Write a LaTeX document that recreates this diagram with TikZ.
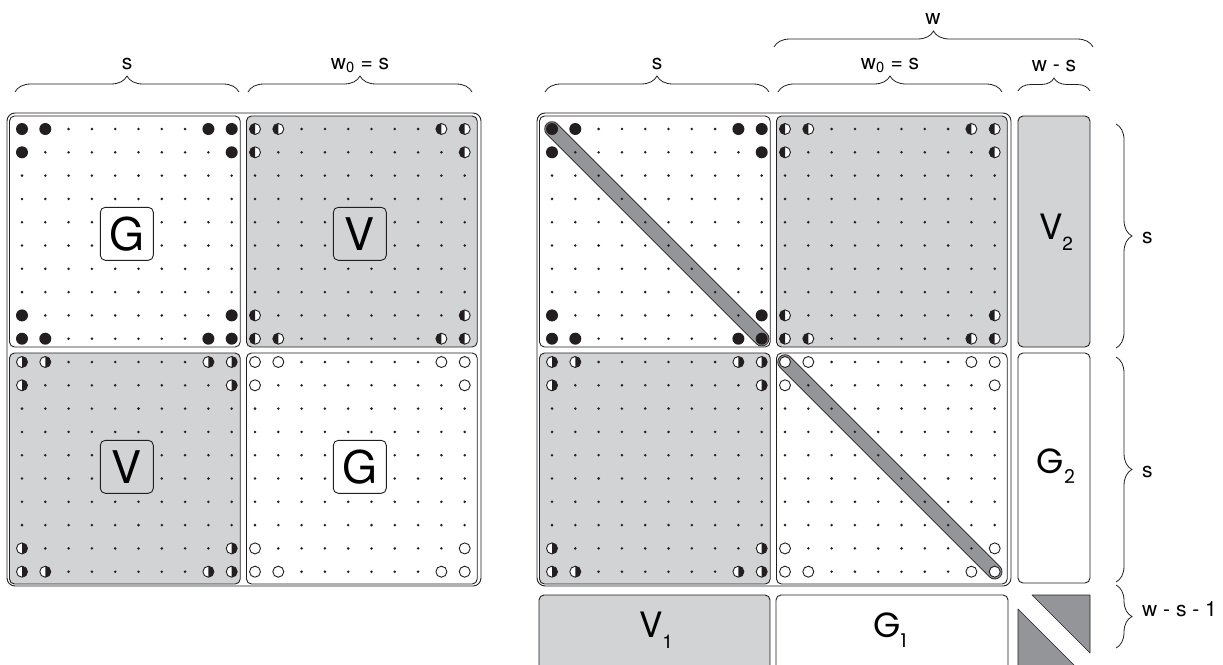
\documentclass[tikz,border=0pt]{standalone}
\usepackage{fontspec}
\setmainfont{TeX Gyre Heros}
\newfontfamily\rondfont{Poppins}
\usetikzlibrary{decorations.pathreplacing}
\definecolor{blocgris}{RGB}{209,211,212}
\definecolor{bandegris}{RGB}{147,149,152}
\definecolor{trait}{RGB}{35,31,32}
\tikzset{
	cadre/.style={draw=trait, line width=0.9pt, rounded corners=5pt},
	etiquette/.style={draw=trait, line width=0.9pt, rounded corners=5pt, minimum size=53pt, inner sep=0pt, font=\fontsize{45}{45}\selectfont},
	sousbloc/.style={inner sep=0pt, font=\fontsize{35}{35}\selectfont},
	titre/.style={inner sep=0pt, anchor=base, font=\fontsize{21}{21}\selectfont},
	accolade/.style={draw=trait, line width=0.8pt, decorate, decoration={brace, amplitude=#1}},
	accolade/.default=16pt,
	bandebord/.style={draw=trait, line width=15.5pt, line cap=round},
	bandefond/.style={draw=bandegris, line width=13.7pt, line cap=round},
	triangle/.style={fill=bandegris, draw=trait, line width=0.7pt, line join=round},
}
\newcommand{\indice}[1]{\raisebox{-0.3em}{\fontsize{19}{19}\selectfont #1}}
\newcommand{\rond}[3]{%
	\ifcase#3\relax
		\fill[trait] ({#1},{#2}) circle[radius=6];
	\or
		\filldraw[fill=white, draw=trait, line width=0.9pt] ({#1},{#2}) circle[radius=5.5];
		\fill[trait] ({#1},{#2}) ++(0,5.5) arc[start angle=90, end angle=270, radius=5.5] -- cycle;
	\or
		\filldraw[fill=white, draw=trait, line width=0.9pt] ({#1},{#2}) circle[radius=5.5];
		\fill[trait] ({#1},{#2}) ++(0,5.5) arc[start angle=90, end angle=-90, radius=5.5] -- cycle;
	\or
		\filldraw[fill=white, draw=trait, line width=0.9pt] ({#1},{#2}) circle[radius=5.5];
	\fi}
\newcommand{\bloc}[3]{%
			{\pgfmathsetmacro{\xa}{9.5+23.7*#1}%
					\pgfmathsetmacro{\xb}{240.2+23.7*#1}%
					\pgfmathsetmacro{\ya}{116+23.7*#2}%
					\pgfmathsetmacro{\yb}{347+23.7*#2}%
					\filldraw[cadre, fill=#3] (\xa,\ya) rectangle (\xb,\yb);}%
		}
\newcommand{\points}[3]{%
			\foreach \i in {0,...,9}
				\foreach \j in {0,...,9}
					\fill[trait] ({22+23.3*(#1+\i)},{129+23.3*(#2+\j)}) circle[radius=1.4];
			\foreach \i/\j in {0/0,1/0,8/0,9/0,0/1,9/1,0/8,9/8,0/9,1/9,8/9,9/9}
				\rond{22+23.3*(#1+\i)}{129+23.3*(#2+\j)}{#3};
		}
\begin{document}
\begin{tikzpicture}[x=1pt, y=-1pt]
			\useasboundingbox (0,0) rectangle (1223,664);
			\clip (0,0) rectangle (1223,664);
			\begin{scope}
				\draw[cadre, rounded corners=8pt] (7,113) rectangle (481,586);
				\bloc{0}{0}{white}
				\bloc{10}{0}{blocgris}
				\bloc{0}{10}{blocgris}
				\bloc{10}{10}{white}
				\points{0}{0}{0}
				\points{10}{0}{1}
				\points{0}{10}{2}
				\points{10}{10}{3}
				\node[etiquette, fill=white] (gA) at (126.8,233.8) {G};
				\node[etiquette, fill=blocgris] (vA) at (359.8,233.8) {V};
				\node[etiquette, fill=blocgris] (vB) at (126.8,466.8) {V};
				\node[etiquette, fill=white] (gB) at (359.8,466.8) {G};
			\end{scope}
			\begin{scope}[xshift=530pt]
				\draw[cadre, rounded corners=8pt] (7,113) rectangle (481,586);
				\bloc{0}{0}{white}
				\bloc{10}{0}{blocgris}
				\bloc{0}{10}{blocgris}
				\bloc{10}{10}{white}
				\draw[bandebord] (22,129) -- (231.7,338.7);
				\draw[bandefond] (22,129) -- (231.7,338.7);
				\draw[bandebord] (255,362) -- (464.7,571.7);
				\draw[bandefond] (255,362) -- (464.7,571.7);
				\points{0}{0}{0}
				\points{10}{0}{1}
				\points{0}{10}{2}
				\points{10}{10}{3}
			\end{scope}
			\filldraw[cadre, fill=blocgris] (1018,116) rectangle (1090,347);
			\filldraw[cadre, fill=white] (1018,353) rectangle (1090,583);
			\filldraw[cadre, fill=blocgris] (539,595) rectangle (770,675);
			\filldraw[cadre, fill=white] (776,595) rectangle (1008,675);
			\filldraw[triangle] (1032,595) -- (1090,595) -- (1090,653) -- cycle;
			\filldraw[triangle] (1018,609) -- (1018,675) -- (1084,675) -- cycle;
			\node[sousbloc] (vC) at (1056,232) {V\indice{2}};
			\node[sousbloc, font=\rondfont\fontsize{35}{35}\selectfont] (gC) at (1056,466) {G\indice{2}};
			\node[sousbloc] (vD) at (656,630) {V\indice{1}};
			\node[sousbloc, font=\rondfont\fontsize{35}{35}\selectfont] (gD) at (890,630) {G\indice{1}};
			\coordinate (h1) at (15,92);
			\coordinate (h2) at (239,92);
			\coordinate (h3) at (248,92);
			\coordinate (h4) at (472,92);
			\coordinate (h5) at (545,92);
			\coordinate (h6) at (769,92);
			\coordinate (h7) at (778,92);
			\coordinate (h8) at (1002,92);
			\coordinate (h9) at (1018,91);
			\coordinate (h10) at (1090,91);
			\coordinate (w1) at (774,47);
			\coordinate (w2) at (1093,47);
			\coordinate (d1) at (1116,124);
			\coordinate (d2) at (1116,348);
			\coordinate (d3) at (1116,357);
			\coordinate (d4) at (1116,582);
			\coordinate (d5) at (1116,585);
			\coordinate (d6) at (1116,648);
			\draw[accolade] (h1) -- (h2);
			\draw[accolade] (h3) -- (h4);
			\draw[accolade] (h5) -- (h6);
			\draw[accolade] (h7) -- (h8);
			\draw[accolade=13pt] (h9) -- (h10);
			\draw[accolade] (w1) -- (w2);
			\draw[accolade] (d1) -- (d2);
			\draw[accolade] (d3) -- (d4);
			\draw[accolade] (d5) -- (d6);
			\node[titre] (tA) at (127,69) {s};
			\node[titre] (tB) at (360,69) {w\textsubscript{0} = s};
			\node[titre] (tC) at (657,69) {s};
			\node[titre] (tD) at (890,69) {w\textsubscript{0} = s};
			\node[titre] (tE) at (1054,71) {w - s};
			\node[titre] (tF) at (933,24) {w};
			\node[titre, anchor=base west] (tG) at (1142,243) {s};
			\node[titre, anchor=base west] (tH) at (1142,477) {s};
			\node[titre, anchor=base west] (tI) at (1142,616) {w - s - 1};
		\end{tikzpicture}
\end{document}
